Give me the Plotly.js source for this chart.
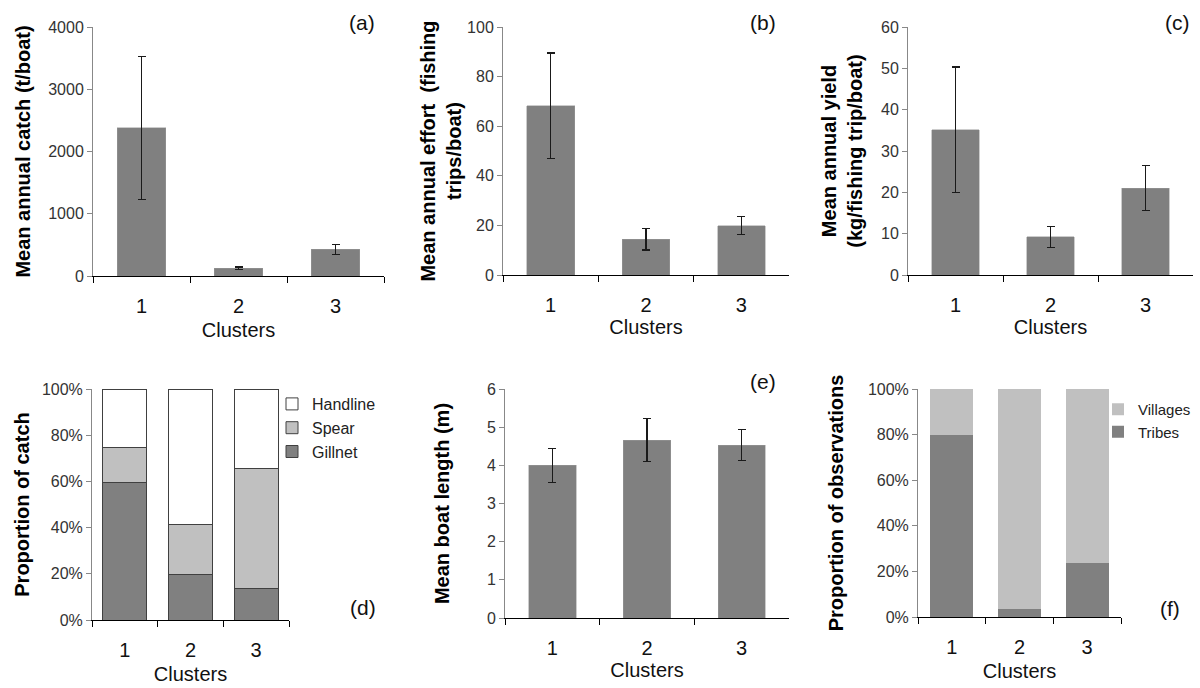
<!DOCTYPE html>
<html>
<head>
<meta charset="utf-8">
<script src="https://cdn.plot.ly/plotly-3.0.1.min.js"></script>
<style>html,body{margin:0;padding:0;background:#fff;}#chart{width:1200px;height:688px;}</style>
</head>
<body>
<div id="chart"></div>
<script>
// ---- data ----
const clusters = ['1', '2', '3'];
const catchMean = [2380, 125, 430];
const catchErr = [1150, 20, 80];
const effortMean = [68.2, 14.5, 19.9];
const effortErr = [21.3, 4.4, 3.7];
const yieldMean = [35.1, 9.2, 21.0];
const yieldErr = [15.2, 2.5, 5.4];
const gillnet = [59.6, 19.7, 13.6];
const spear = [15.2, 21.8, 52.1];
const handline = [25.2, 58.5, 34.3];
const boatLength = [4.0, 4.66, 4.53];
const boatLengthErr = [0.45, 0.56, 0.40];
const tribes = [79.9, 3.4, 23.8];
const villages = [20.1, 96.6, 76.2];

const W = 1200, H = 688;
const DARK = '#808080', LIGHT = '#c0c0c0';
const FONT = 'Liberation Sans, Arial, sans-serif';

function errBar(arr) {
  return {type: 'data', array: arr, visible: true, color: '#1a1a1a', thickness: 1.2, width: 4};
}
function simpleBar(y, err, xa, ya) {
  return {type: 'bar', x: clusters, y: y, xaxis: xa, yaxis: ya, width: 0.5,
    marker: {color: DARK, line: {color: '#9a9a9a', width: 0.5}},
    error_y: errBar(err), showlegend: false, hoverinfo: 'x+y'};
}

const data = [
  simpleBar(catchMean, catchErr, 'x', 'y'),
  simpleBar(effortMean, effortErr, 'x2', 'y2'),
  simpleBar(yieldMean, yieldErr, 'x3', 'y3'),
  {type: 'bar', name: 'Gillnet', x: clusters, y: gillnet, xaxis: 'x4', yaxis: 'y4', width: 0.67,
   marker: {color: DARK, line: {color: '#404040', width: 1}}, legend: 'legend', legendgroup: 'g'},
  {type: 'bar', name: 'Spear', x: clusters, y: spear, xaxis: 'x4', yaxis: 'y4', width: 0.67,
   marker: {color: LIGHT, line: {color: '#404040', width: 1}}, legend: 'legend', legendgroup: 's'},
  {type: 'bar', name: 'Handline', x: clusters, y: handline, xaxis: 'x4', yaxis: 'y4', width: 0.67,
   marker: {color: '#ffffff', line: {color: '#404040', width: 1}}, legend: 'legend', legendgroup: 'h'},
  simpleBar(boatLength, boatLengthErr, 'x5', 'y5'),
  {type: 'bar', name: 'Tribes', x: clusters, y: tribes, xaxis: 'x6', yaxis: 'y6', width: 0.64,
   marker: {color: DARK, line: {width: 0}}, legend: 'legend2', legendgroup: 't'},
  {type: 'bar', name: 'Villages', x: clusters, y: villages, xaxis: 'x6', yaxis: 'y6', width: 0.64,
   marker: {color: LIGHT, line: {width: 0}}, legend: 'legend2', legendgroup: 'v'}
];

function xAxis(x0, x1, anchor, standoff) {
  return {domain: [x0 / W, x1 / W], anchor: anchor, type: 'category', range: [-0.5, 2.5],
    tickson: 'boundaries', ticks: 'outside', ticklen: 6, tickcolor: '#000', tickwidth: 1,
    showline: true, linecolor: '#000', linewidth: 1, showgrid: false, zeroline: false,
    ticklabelstandoff: 12,
    tickfont: {family: FONT, size: 20, color: '#111'},
    title: {text: 'Clusters', font: {family: FONT, size: 20, color: '#111'}, standoff: standoff},
    fixedrange: true};
}
function yAxis(y0, y1, anchor, range, dtick, title, standoff, suffix) {
  return {domain: [1 - y1 / H, 1 - y0 / H], anchor: anchor, range: range, dtick: dtick,
    ticks: 'outside', ticklen: 5, tickcolor: '#888', showline: true, linecolor: '#888',
    linewidth: 1, showgrid: false, zeroline: false, ticksuffix: suffix || '',
    tickfont: {family: FONT, size: 16, color: '#333'},
    title: {text: title, font: {family: FONT, size: 20, color: '#000', weight: 'bold'}, standoff: standoff},
    fixedrange: true};
}

function panelLabel(text, x, y) {
  return {text: text, xref: 'paper', yref: 'paper', x: x / W, y: 1 - y / H,
    xanchor: 'center', yanchor: 'middle', showarrow: false,
    font: {family: FONT, size: 21, color: '#111'}};
}

const layout = {
  width: W, height: H,
  margin: {l: 0, r: 0, t: 0, b: 0},
  paper_bgcolor: '#fff', plot_bgcolor: '#fff',
  barmode: 'stack',
  font: {family: FONT},
  xaxis: xAxis(93, 384, 'y', 6),
  yaxis: yAxis(27, 276, 'x', [0, 4000], 1000, '<b>Mean annual catch (t/boat)</b>', 12),
  xaxis2: xAxis(503, 789, 'y2', 4),
  yaxis2: yAxis(27, 275, 'x2', [0, 100], 20, '<b>Mean annual effort  (fishing<br>trips/boat)</b>', 0),
  xaxis3: xAxis(908, 1193, 'y3', 4),
  yaxis3: yAxis(27, 275, 'x3', [0, 60], 10, '<b>Mean annual yield<br>(kg/fishing trip/boat)</b>', 13),
  xaxis4: xAxis(92, 289, 'y4', 6),
  yaxis4: yAxis(389, 620, 'x4', [0, 100], 20, '<b>Proportion of catch</b>', 6, '%'),
  xaxis5: xAxis(505, 789, 'y5', 4),
  yaxis5: yAxis(389, 618, 'x5', [0, 6], 1, '<b>Mean boat length (m)</b>', 31),
  xaxis6: xAxis(918, 1121, 'y6', 6),
  yaxis6: yAxis(389, 617, 'x6', [0, 100], 20, '<b>Proportion of observations</b>', 18, '%'),
  legend: {x: 272 / W, y: 1 - 387 / H, xanchor: 'left', yanchor: 'top', traceorder: 'reversed',
    tracegroupgap: 5, bgcolor: 'rgba(0,0,0,0)', font: {family: FONT, size: 16, color: '#222'}},
  legend2: {x: 1098 / W, y: 1 - 393 / H, xanchor: 'left', yanchor: 'top', traceorder: 'reversed',
    tracegroupgap: 5, bgcolor: 'rgba(0,0,0,0)', font: {family: FONT, size: 15, color: '#222'}},
  annotations: [
    panelLabel('(a)', 362, 22),
    panelLabel('(b)', 763, 22),
    panelLabel('(c)', 1177, 22),
    panelLabel('(d)', 363, 607),
    panelLabel('(e)', 763, 381),
    panelLabel('(f)', 1170, 608)
  ]
};

Plotly.newPlot('chart', data, layout, {displayModeBar: false, staticPlot: true});
</script>
</body>
</html>
